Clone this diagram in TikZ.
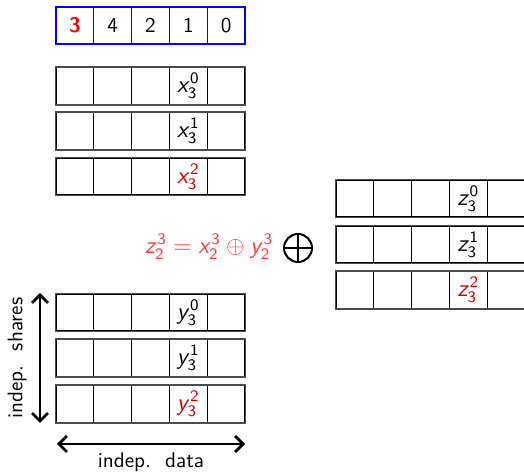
\documentclass[tikz,border=0pt]{standalone}
\usetikzlibrary{arrows.meta}
\DeclareMathAlphabet{\mathsfsl}{OT1}{cmss}{m}{sl}
\newcommand{\sv}[3]{\mathsfsl{#1}^{\mathsf{#2}}_{\mathsf{#3}}}
\definecolor{darkred}{RGB}{205,0,0}
\definecolor{lightred}{RGB}{255,55,55}
\begin{document}
\begin{tikzpicture}[x=0.5pt,y=-0.5pt,
  font=\fontsize{10.6}{12.5}\selectfont\sffamily,
  cell/.style={draw=black, line width=0.6pt, minimum width=18.9pt, minimum height=18.5pt, inner sep=0pt, anchor=center},
  topcell/.style={cell, draw=blue},
  rowbox/.style={draw=black!70, line width=0.8pt},
  lbl/.style={font=\fontsize{11.6}{13}\selectfont\sffamily, inner sep=0pt},
  dblarrow/.style={line width=1.4pt, {Straight Barb[length=4pt,width=8pt]}-{Straight Barb[length=4pt,width=8pt]}},
  share/.style={lbl, text=darkred}
]
\useasboundingbox (0,0) rectangle (524,474);

% top index row
\foreach \v [count=\i from 0] in {{\textcolor{red}{\textbf{3}}},4,2,1,0}{
  \node[topcell] (t\i) at ({56+18.9+37.8*\i},25.5) {\v};
}

% x rows
\foreach \r/\yc in {0/86,1/131,2/176.5}{
  \foreach \i in {0,...,4}{
    \node[cell] (x\r c\i) at ({56+18.9+37.8*\i},\yc) {};
  }
  \draw[rowbox] (x\r c0.north west) rectangle (x\r c4.south east);
}
\node[lbl] (lx0) at (x0c3) {$\sv{x}{0}{3}$};
\node[lbl] (lx1) at (x1c3) {$\sv{x}{1}{3}$};
\node[share] (lx2) at (x2c3) {$\sv{x}{2}{3}$};

% y rows
\foreach \r/\yc in {0/312.5,1/358,2/404}{
  \foreach \i in {0,...,4}{
    \node[cell] (y\r c\i) at ({56+18.9+37.8*\i},\yc) {};
  }
  \draw[rowbox] (y\r c0.north west) rectangle (y\r c4.south east);
}
\node[lbl] (ly0) at (y0c3) {$\sv{y}{0}{3}$};
\node[lbl] (ly1) at (y1c3) {$\sv{y}{1}{3}$};
\node[share] (ly2) at (y2c3) {$\sv{y}{2}{3}$};

% z rows
\foreach \r/\yc in {0/198.5,1/244.5,2/290}{
  \foreach \i in {0,...,4}{
    \node[cell] (z\r c\i) at ({336+18.9+37.8*\i},\yc) {};
  }
  \draw[rowbox] (z\r c0.north west) rectangle (z\r c4.south east);
}
\node[lbl] (lz0) at (z0c3) {$\sv{z}{0}{3}$};
\node[lbl] (lz1) at (z1c3) {$\sv{z}{1}{3}$};
\node[share] (lz2) at (z2c3) {$\sv{z}{2}{3}$};

% formula and xor symbol
\node[lbl, text=lightred] (formula) at (209,247) {$\sv{z}{3}{2} = \sv{x}{3}{2} \oplus \sv{y}{3}{2}$};
\node[circle, draw=black, line width=1pt, minimum size=14pt, inner sep=0pt] (xor) at (298,248) {};
\draw[line width=1pt] (xor.north) -- (xor.south);
\draw[line width=1pt] (xor.west) -- (xor.east);

% arrows
\coordinate (vtop) at (40,293);
\coordinate (vbot) at (40,423);
\draw[dblarrow] (vtop) -- (vbot);
\node[rotate=90] (shares) at (17,358) {indep.\ \ shares};

\coordinate (hl) at (57,444);
\coordinate (hr) at (245,444);
\draw[dblarrow] (hl) -- (hr);
\node (data) at (151,462) {indep.\ \ data};
\end{tikzpicture}
\end{document}
